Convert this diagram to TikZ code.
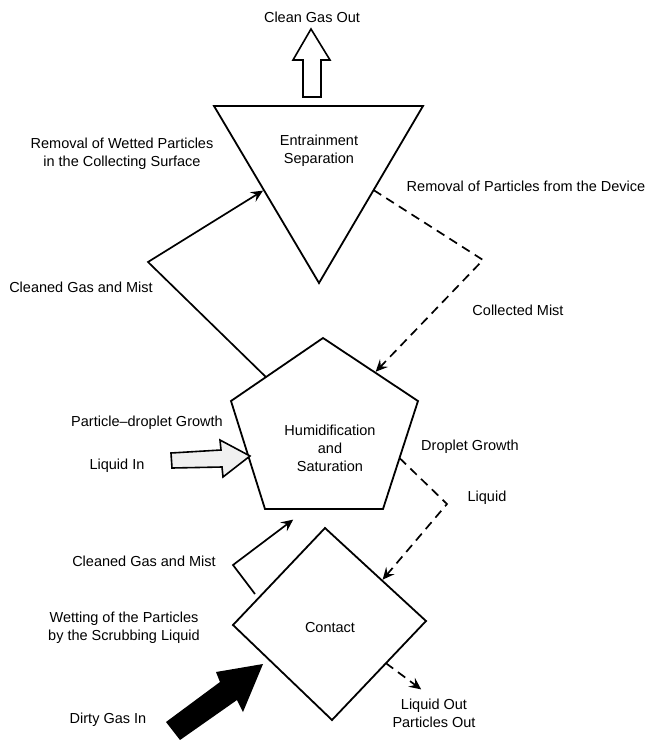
\documentclass[tikz,border=0pt]{standalone}
\usepackage{fontspec}
\setmainfont{Liberation Sans}
\usetikzlibrary{arrows.meta,calc}
\tikzset{
  shapeline/.style={line width=1.8pt, line join=miter},
  lbl/.style={inner sep=0pt, font=\fontsize{14.5}{18}\selectfont},
  mlbl/.style={lbl, align=center},
  flow/.style={line width=1.7pt, -{Stealth[length=12pt,width=11pt,inset=4.5pt]}, shorten >=1pt},
  dflow/.style={flow, dash pattern=on 9pt off 6pt},
  bigarrow/.style={line width=1.6pt, line join=miter}
}
\begin{document}
\begin{tikzpicture}[x=1pt,y=-1pt]
\useasboundingbox (0,0) rectangle (648,740);
% ---- triangle (Entrainment Separation)
\coordinate (tL) at (214,106);
\coordinate (tR) at (423,106);
\coordinate (tB) at (319,283);
\draw[shapeline] (tL) -- (tR) -- (tB) -- cycle;
\node[mlbl] (ent) at (319,151) {Entrainment\\Separation};
% ---- pentagon (Humidification and Saturation)
\coordinate (pT) at (323,338);
\coordinate (pUL) at (231,401);
\coordinate (pUR) at (418,401);
\coordinate (pLL) at (265,509);
\coordinate (pLR) at (383,509);
\draw[shapeline] (pT) -- (pUR) -- (pLR) -- (pLL) -- (pUL) -- cycle;
\node[mlbl] (hum) at (330,448) {Humidification\\and\\Saturation};
% ---- diamond (Contact)
\coordinate (dL) at (233,625);
\coordinate (dT) at (325,528);
\coordinate (dR) at (426,621);
\coordinate (dB) at (332,720);
\draw[shapeline] (dL) -- (dT) -- (dR) -- (dB) -- cycle;
\node[lbl, anchor=base] (con) at (330,632) {Contact};
% ---- clean gas out arrow
\coordinate (cgTip) at (311,29);
\draw[bigarrow, fill=white] (cgTip) -- (330,60) -- (321,60) -- (321,97) -- (303,97) -- (303,60) -- (293,60) -- cycle;
\node[lbl, anchor=base] (cgo) at (312,22) {Clean Gas Out};
% ---- liquid in arrow
\coordinate (liTip) at (250,456);
\draw[bigarrow, fill=black!6] (liTip) -- (223,477) -- (222,467) -- (172,468) -- (171,453) -- (221,450) -- (220,440) -- cycle;
\node[lbl, anchor=base] (lin) at (117,469) {Liquid In};
% ---- dirty gas in arrow
\coordinate (dgTip) at (263,664);
\fill[black] (dgTip) -- (243,712) -- (237,700) -- (180,740) -- (166,722) -- (220,682) -- (216,672) -- cycle;
\node[lbl, anchor=base] (dgi) at (108,723) {Dirty Gas In};
% ---- connectors
\coordinate (c1) at (148,262);
\draw[flow] ($(pUL)!0.38!(pT)$) -- (c1) -- ($(tL)!0.475!(tB)$);
\coordinate (c2) at (483,260);
\draw[dflow] ($(tR)!0.475!(tB)$) -- (c2) -- ($(pT)!0.547!(pUR)$);
\coordinate (c3) at (447,504);
\draw[dflow] ($(pUR)!0.528!(pLR)$) -- (c3) -- ($(dT)!0.564!(dR)$);
\coordinate (c4s) at (255,594);
\coordinate (c4) at (233,565);
\coordinate (c4e) at (294,519);
\draw[flow] (c4s) -- (c4) -- (c4e);
\coordinate (c5) at (422,690);
\draw[dflow] ($(dR)!0.426!(dB)$) -- (c5);
% ---- labels
\node[mlbl] (rwp) at (122,153.5) {Removal of Wetted Particles\\in the Collecting Surface};
\node[lbl, anchor=base] (cgm1) at (81,292) {Cleaned Gas and Mist};
\node[lbl, anchor=base] (rpd) at (526,191) {Removal of Particles from the Device};
\node[lbl, anchor=base] (cm) at (518,315) {Collected Mist};
\node[lbl, anchor=base] (dg) at (470,450) {Droplet Growth};
\node[lbl, anchor=base] (liq) at (487,501) {Liquid};
\node[lbl, anchor=base] (pdg) at (147,426) {Particle--droplet Growth};
\node[lbl, anchor=base] (cgm2) at (144,566) {Cleaned Gas and Mist};
\node[mlbl] (wet) at (124,627.5) {Wetting of the Particles\\by the Scrubbing Liquid};
\node[mlbl] (lo) at (434,713) {Liquid Out\\Particles Out};
\end{tikzpicture}
\end{document}
